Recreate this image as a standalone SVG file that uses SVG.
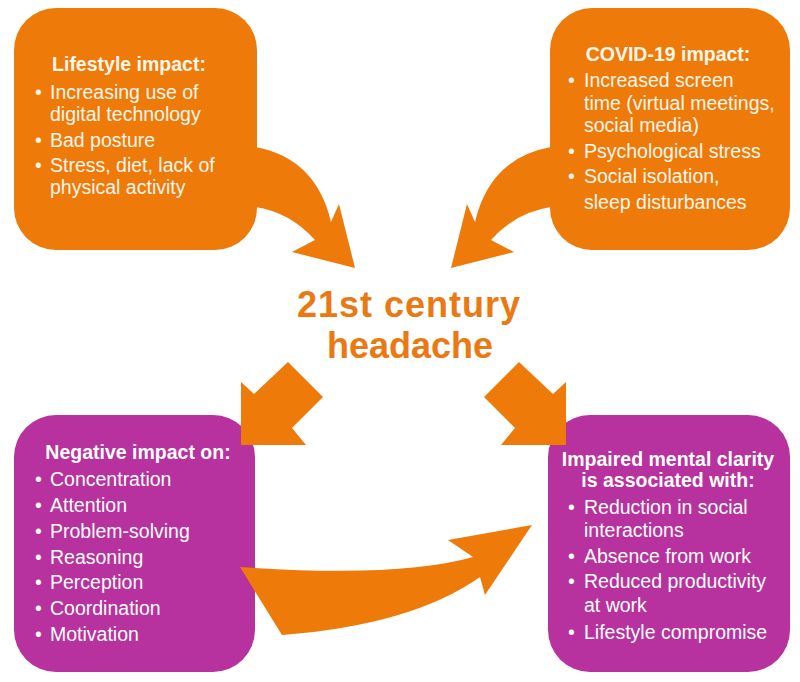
<svg xmlns="http://www.w3.org/2000/svg" width="800" height="682" viewBox="0 0 800 682">
<style>
.or{fill:#EE7A0A}
.pu{fill:#B7329E}
.t{font-family:"Liberation Sans",Arial,sans-serif;font-size:19.5px}
.b{font-weight:bold}
.co{fill:#FFF6EA}
.cw{fill:#FFFFFF}
.head{font-family:"Liberation Sans",Arial,sans-serif;font-size:36px;font-weight:bold;fill:#EA7912;text-anchor:middle}
.mid{text-anchor:middle}
</style>
<rect width="800" height="682" fill="#FFFFFF"/>

<g id="lifestyle">
<rect class="or" x="14" y="8" width="243" height="242" rx="42"/>
<g class="t co">
<text class="b mid" x="129" y="71">Lifestyle impact:</text>
<text x="35" y="99">•</text><text x="50" y="99">Increasing use of</text>
<text x="50" y="121">digital technology</text>
<text x="35" y="147">•</text><text x="50" y="147">Bad posture</text>
<text x="35" y="172">•</text><text x="50" y="172">Stress, diet, lack of</text>
<text x="50" y="194">physical activity</text>
</g>
</g>

<g id="covid">
<rect class="or" x="550" y="8" width="240" height="242" rx="42"/>
<g class="t co">
<text class="b mid" x="668" y="61">COVID-19 impact:</text>
<text x="568" y="87">•</text><text x="584" y="87">Increased screen</text>
<text x="584" y="110">time (virtual meetings,</text>
<text x="584" y="132">social media)</text>
<text x="568" y="158">•</text><text x="584" y="158">Psychological stress</text>
<text x="568" y="183">•</text><text x="584" y="183">Social isolation,</text>
<text x="584" y="209">sleep disturbances</text>
</g>
</g>

<g id="center">
<text class="head" x="409" y="317" letter-spacing="1">21st century</text>
<text class="head" x="410" y="358">headache</text>
</g>

<g id="negative">
<rect class="pu" x="14" y="415" width="241" height="257" rx="42"/>
<g class="t cw">
<text class="b mid" x="138" y="459">Negative impact on:</text>
<text x="35" y="486">•</text><text x="50" y="486">Concentration</text>
<text x="35" y="512">•</text><text x="50" y="512">Attention</text>
<text x="35" y="538">•</text><text x="50" y="538">Problem-solving</text>
<text x="35" y="564">•</text><text x="50" y="564">Reasoning</text>
<text x="35" y="589">•</text><text x="50" y="589">Perception</text>
<text x="35" y="615">•</text><text x="50" y="615">Coordination</text>
<text x="35" y="641">•</text><text x="50" y="641">Motivation</text>
</g>
</g>

<g id="impaired">
<rect class="pu" x="548" y="415" width="242" height="257" rx="42"/>
<g class="t cw">
<text class="b mid" x="668" y="466">Impaired mental clarity</text>
<text class="b mid" x="668" y="487">is associated with:</text>
<text x="568" y="514">•</text><text x="584" y="514">Reduction in social</text>
<text x="584" y="537">interactions</text>
<text x="568" y="563">•</text><text x="584" y="563">Absence from work</text>
<text x="568" y="588">•</text><text x="584" y="588">Reduced productivity</text>
<text x="584" y="612">at work</text>
<text x="568" y="639">•</text><text x="584" y="639">Lifestyle compromise</text>
</g>
</g>

<g id="connectors" class="or">
<path d="M255,147 Q316,158 331,222 L339,204 L355,268 L292,252 L315,240 Q290,212 255,207 Z"/>
<path transform="translate(806,0) scale(-1,1)" d="M255,147 Q316,158 331,222 L339,204 L355,268 L292,252 L315,240 Q290,212 255,207 Z"/>
<polygon points="288,362 323,397 292,428 306,445 241,445 241,382 254,394"/>
<polygon points="519,362 484,397 515,428 501,445 566,445 566,382 553,394"/>
<path d="M240,567 Q400,578 473,557 L448,540 L532,525 L485,595 L480,577 Q412,625 282,635 Z"/>
</g>
</svg>
